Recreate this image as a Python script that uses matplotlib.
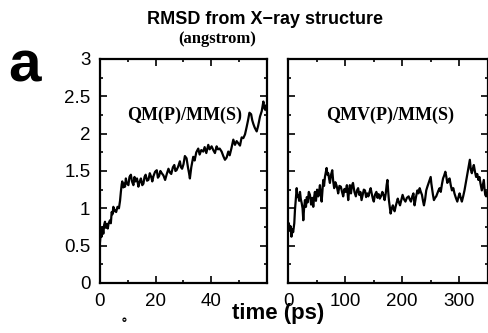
import numpy as np
import matplotlib
matplotlib.use('Agg')
import matplotlib.pyplot as plt
from matplotlib.ticker import MultipleLocator

# QM(P)/MM(S) run, time in ps, RMSD in angstrom
qm_time=[0.0,0.3,0.6,0.9,1.2,1.5,1.8,2.1,2.4,2.8,3.1,3.6,3.9,4.2,4.5,4.8,5.1,5.4,5.8,6.3,
         6.8,7.2,7.5,7.8,8.0,8.4,8.7,9.0,9.3,9.6,10.2,10.6,11.1,11.5,12.0,12.4,12.8,13.3,13.8,14.2,
         14.7,15.2,15.6,16.0,16.4,16.9,17.4,17.9,18.4,18.8,19.2,19.8,20.4,20.8,21.2,21.7,22.2,22.8,23.4,24.0,
         24.6,25.1,25.6,26.2,26.7,27.1,27.5,28.1,28.7,29.1,29.5,30.0,30.5,31.1,31.6,32.0,32.3,32.8,33.5,34.0,
         34.6,35.3,35.8,36.4,37.1,37.6,38.2,38.9,39.4,40.1,40.7,41.3,41.9,42.4,43.0,43.7,44.3,44.9,45.5,46.1,
         46.6,47.2,47.9,48.5,49.1,49.7,50.3,50.9,51.5,52.1,52.7,53.2,53.7,54.3,54.7,55.1,55.6,56.3,56.8,57.5,
         58.1,58.7,59.0,59.3,59.7,60.0]
qm_rmsd=[0.55,0.68,0.62,0.75,0.66,0.78,0.82,0.74,0.79,0.73,0.80,0.84,0.80,0.95,0.92,1.02,0.96,0.98,0.95,1.02,
         1.00,1.10,1.22,1.32,1.36,1.28,1.33,1.29,1.40,1.34,1.31,1.42,1.45,1.36,1.31,1.42,1.36,1.40,1.29,1.35,
         1.40,1.31,1.33,1.42,1.45,1.37,1.38,1.47,1.42,1.36,1.43,1.49,1.51,1.41,1.43,1.50,1.47,1.44,1.38,1.46,
         1.53,1.48,1.46,1.55,1.58,1.50,1.51,1.56,1.63,1.55,1.53,1.59,1.70,1.67,1.55,1.47,1.40,1.55,1.69,1.64,
         1.75,1.80,1.72,1.78,1.76,1.82,1.74,1.85,1.79,1.83,1.78,1.74,1.83,1.79,1.80,1.76,1.70,1.65,1.68,1.76,
         1.71,1.80,1.92,1.85,1.90,1.87,1.84,1.95,1.94,1.99,2.09,2.18,2.28,2.26,2.18,2.13,2.08,2.03,2.10,2.23,
         2.30,2.43,2.35,2.32,2.38,2.30]

# QMV(P)/MM(S) run
qmv_time=[0,1.5,3,4.5,6,7.5,9,11,12.2,13.5,15.2,16.5,18,19.5,21,22.5,24,25.5,26.8,28,
          29.7,31.5,33,34.5,36.5,38.5,40.5,42.5,44.3,45.8,47.2,49,51,53,54.5,56,57.5,59,60.5,61.8,
          63.2,64.8,66.2,67.7,69.2,70.6,72,73.5,75.5,77.6,79.3,81,83,85,86.5,88,90.2,92.7,94.8,96.8,
          99,101,103.3,105.6,107,108.5,110.5,112,114,116.5,119,121,123,125,127,129,131,133,135,137,
          139,141,143,145,147,148.8,150.5,152.5,155,157,159,161,163,165.5,167.5,169.5,171.5,173,174.4,175.8,
          177,178.5,180,182,184,185.5,187,189,190.8,192.5,194.5,196.5,198.5,201,203.5,206,208.5,211.6,213.5,215.7,
          218,220,222,224.5,227,229,231,233,235,236.8,238.5,240.5,242.5,244.5,246.8,248.5,250.3,251.5,252.6,254.3,
          256,258,260,262,264,266,268,270,272,274,276,277.8,279.5,281.5,283.5,285.5,287.6,290,292,294.5,
          297,299,301,303,305,307.3,309.6,311.7,313.7,315.3,316.7,318,319,320.7,322.5,324.2,326,328,330,332,
          334,335.8,337.5,339,340,341.8,343.5,344.8,346,347.6,349,350]
qmv_rmsd=[0.72,0.80,0.70,0.76,0.62,0.72,0.68,0.80,0.98,1.10,1.27,1.15,1.18,1.10,1.22,1.12,1.07,1.00,0.84,0.98,
          1.11,1.02,1.15,1.08,1.22,1.18,1.05,1.14,1.02,1.15,1.22,1.10,1.25,1.16,1.22,1.31,1.18,1.09,1.25,1.38,
          1.30,1.42,1.48,1.54,1.45,1.47,1.40,1.34,1.45,1.51,1.36,1.27,1.35,1.31,1.26,1.20,1.30,1.29,1.22,1.16,
          1.26,1.22,1.31,1.11,1.22,1.31,1.20,1.30,1.34,1.22,1.16,1.24,1.27,1.18,1.22,1.11,1.18,1.25,1.24,1.15,
          1.20,1.16,1.22,1.27,1.19,1.13,1.09,1.18,1.22,1.14,1.19,1.13,1.16,1.22,1.18,1.11,1.20,1.31,1.38,1.22,
          1.11,1.02,0.93,1.00,1.04,0.99,0.96,1.03,1.08,1.13,1.08,1.04,1.10,1.18,1.12,1.09,1.14,1.16,1.12,1.09,
          1.16,1.20,1.04,1.15,1.24,1.20,1.27,1.22,1.18,1.10,1.04,1.12,1.24,1.29,1.34,1.38,1.42,1.33,1.27,1.18,
          1.11,1.14,1.16,1.20,1.24,1.27,1.22,1.32,1.40,1.44,1.49,1.42,1.34,1.38,1.40,1.31,1.24,1.27,1.20,1.14,
          1.09,1.15,1.20,1.14,1.09,1.16,1.24,1.33,1.42,1.48,1.54,1.60,1.65,1.52,1.47,1.53,1.58,1.49,1.42,1.46,
          1.38,1.42,1.34,1.28,1.24,1.31,1.38,1.26,1.18,1.16,1.22,1.20]

qm_xticks=[0,20,40,60]
qm_xlabels=['0','20','40','']
y_ticks=[0,0.5,1,1.5,2,2.5,3]
y_labels=['0','0.5','1','1.5','2','2.5','3']

sans='Liberation Sans'
serif='Liberation Serif'

fig=plt.figure(figsize=(4.88,3.33),dpi=100)
ax1=fig.add_axes([0.2049,0.1502,0.3422,0.6727])
ax2=fig.add_axes([0.5902,0.1502,0.4088,0.6727])

ax1.plot(qm_time,qm_rmsd,'k-',lw=1.6)
ax2.plot(qmv_time,qmv_rmsd,'k-',lw=1.6)

ax1.set_xlim(0,60)
ax2.set_xlim(0,350)
for ax in [ax1,ax2]:
    ax.set_ylim(0,3)
    ax.set_yticks(y_ticks)
    ax.yaxis.set_minor_locator(MultipleLocator(0.25))
    ax.tick_params(which='both',direction='in',top=True,right=True,width=1.2)
    ax.tick_params(which='major',length=5,pad=7,labelsize=13.5)
    ax.tick_params(which='minor',length=2.5)
    for s in ax.spines.values():
        s.set_linewidth(1.6)
ax1.set_xticks(qm_xticks)
ax1.set_xticklabels(qm_xlabels)
ax1.xaxis.set_minor_locator(MultipleLocator(10))
ax1.set_yticklabels(y_labels)
ax2.xaxis.set_major_locator(MultipleLocator(100))
ax2.xaxis.set_minor_locator(MultipleLocator(50))
ax2.set_yticklabels([])
for ax in [ax1,ax2]:
    for lab in ax.get_xticklabels()+ax.get_yticklabels():
        lab.set_family(sans)

ax1.text(30.5,2.25,'QM(P)/MM(S)',family=serif,weight='bold',fontsize=13,ha='center',va='center')
ax2.text(178.5,2.25,'QMV(P)/MM(S)',family=serif,weight='bold',fontsize=13,ha='center',va='center')

fig.text(265/488,1-19/333,'RMSD from X\u2212ray structure',family=sans,weight='bold',fontsize=13,ha='center',va='center')
fig.text(217/488,1-39/333,'(angstrom)',family=serif,weight='bold',fontsize=12,ha='center',va='center')
fig.text(25/488,1-66/333,'a',family=sans,weight='bold',fontsize=42,ha='center',va='center')
fig.text(278/488,1-314/333,'time (ps)',family=sans,weight='bold',fontsize=16,ha='center',va='center')
fig.text(124/488,1-327/333,'\u02da',family=sans,weight='bold',fontsize=12,ha='center',va='center')

plt.savefig('out.png',dpi=100)
